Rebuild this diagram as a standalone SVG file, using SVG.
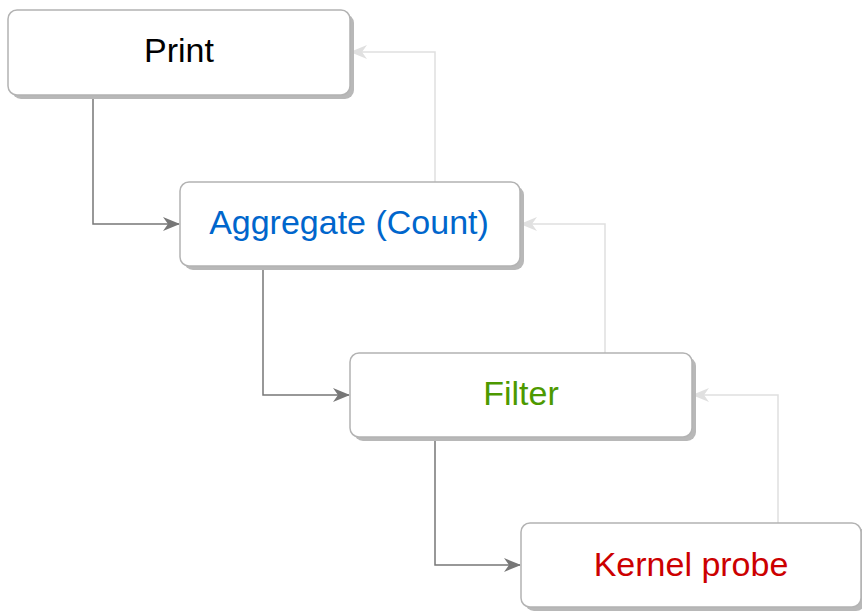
<svg xmlns="http://www.w3.org/2000/svg" width="862" height="614" viewBox="0 0 862 614">
<style>
.box{fill:#fff;stroke:#b3b3b3;stroke-width:1.5}
.sh{fill:#b8b8b8}
.t{font-family:"Liberation Sans",Arial,sans-serif;font-size:34px;text-anchor:middle;dominant-baseline:central}
.dn{fill:none;stroke:#777;stroke-width:1.5}
.up{fill:none;stroke:#e0e0e0;stroke-width:1.5}
</style>
<defs>
<marker id="ad" markerWidth="17" markerHeight="14" refX="16" refY="7" orient="auto" markerUnits="userSpaceOnUse">
<path d="M0,0 L17,7 L0,14 L5,7 Z" fill="#777"/>
</marker>
<marker id="au" markerWidth="17" markerHeight="14" refX="16" refY="7" orient="auto" markerUnits="userSpaceOnUse">
<path d="M0,0 L17,7 L0,14 L5,7 Z" fill="#e0e0e0"/>
</marker>
</defs>
<g id="connectors">
<path class="dn" d="M93,95 V224 H179" marker-end="url(#ad)"/>
<path class="dn" d="M263,266 V395 H349" marker-end="url(#ad)"/>
<path class="dn" d="M435,438 V565 H520" marker-end="url(#ad)"/>
<path class="up" d="M435,182 V52 H351" marker-end="url(#au)"/>
<path class="up" d="M605,353 V224 H521" marker-end="url(#au)"/>
<path class="up" d="M778,523 V395 H693" marker-end="url(#au)"/>
</g>
<g id="print">
<rect class="sh" x="12" y="14" width="342" height="85" rx="9"/>
<rect class="box" x="8" y="10" width="342" height="85" rx="9"/>
<text class="t" x="179" y="50" fill="#000">Print</text>
</g>
<g id="aggregate">
<rect class="sh" x="184" y="186" width="340" height="84" rx="9"/>
<rect class="box" x="180" y="182" width="340" height="84" rx="9"/>
<text class="t" x="349" y="222" fill="#0066cc">Aggregate (Count)</text>
</g>
<g id="filter">
<rect class="sh" x="354" y="357" width="342" height="84" rx="9"/>
<rect class="box" x="350" y="353" width="342" height="84" rx="9"/>
<text class="t" x="521" y="393" fill="#4d9900">Filter</text>
</g>
<g id="kernel">
<rect class="sh" x="525" y="527" width="340" height="84" rx="9"/>
<rect class="box" x="521" y="523" width="340" height="84" rx="9"/>
<text class="t" x="691" y="564" fill="#cc0000">Kernel probe</text>
</g>
</svg>
